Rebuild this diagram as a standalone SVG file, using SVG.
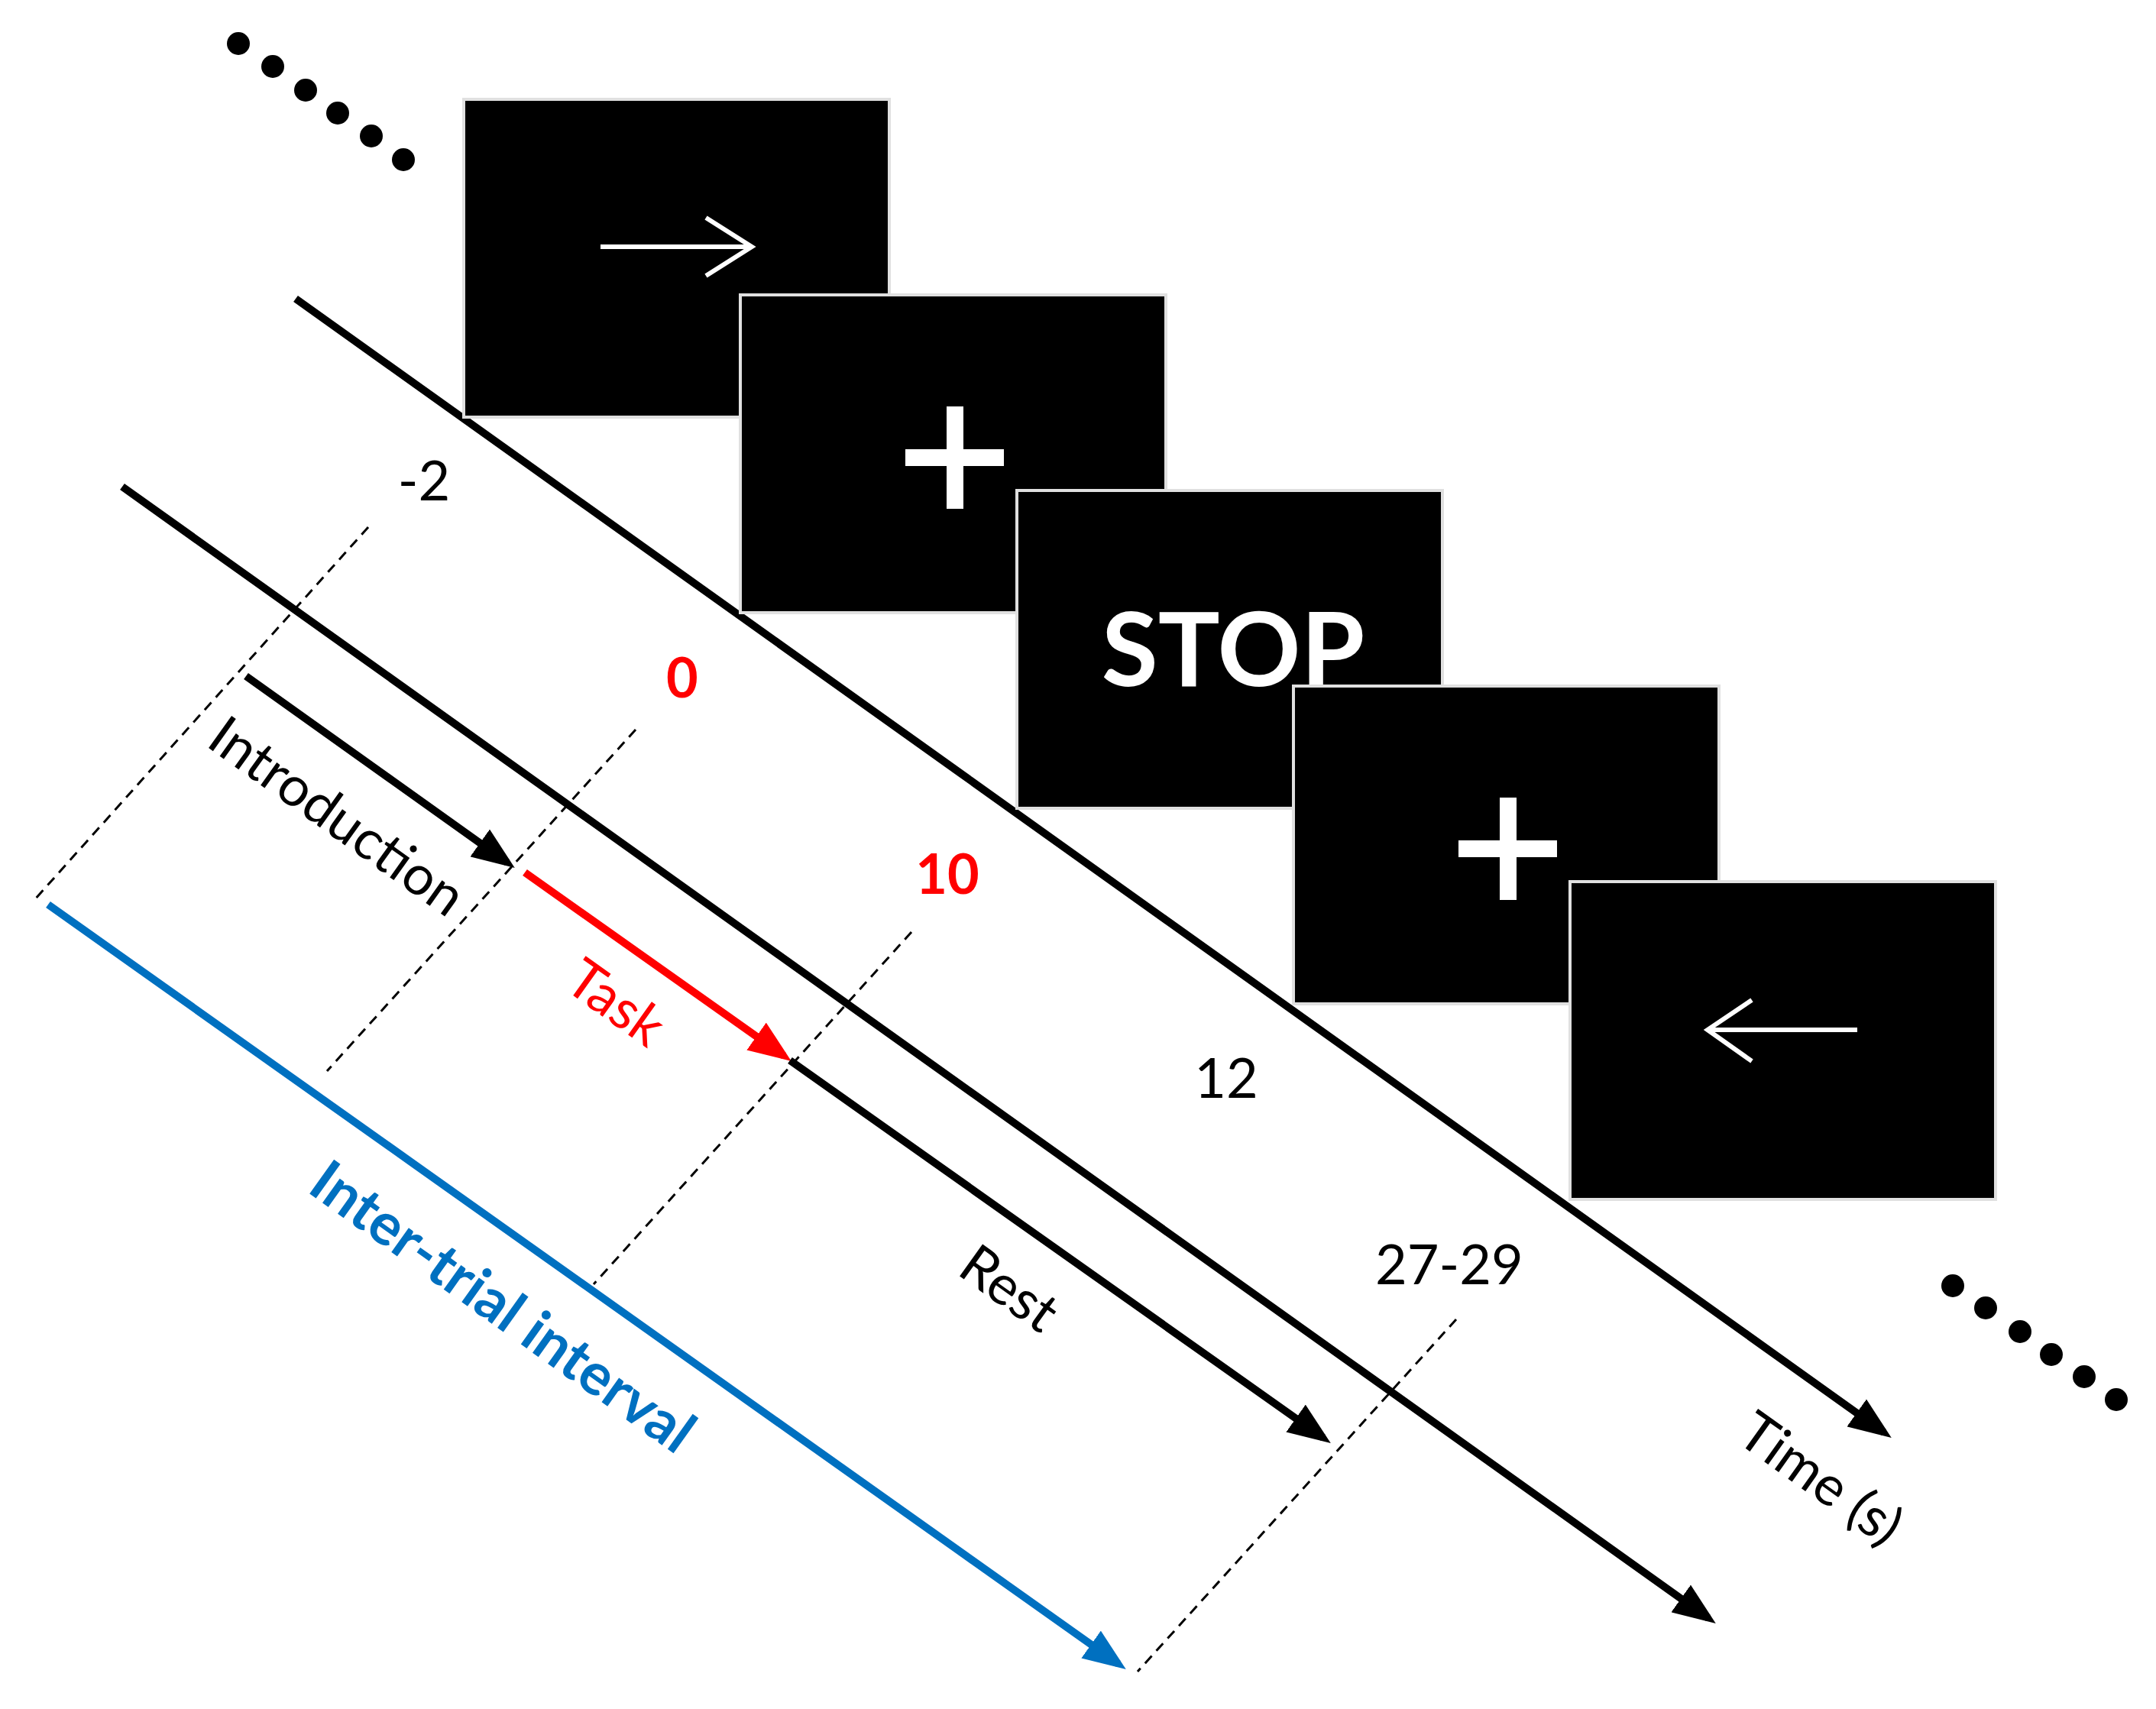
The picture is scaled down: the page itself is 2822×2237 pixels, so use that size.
<svg xmlns="http://www.w3.org/2000/svg" width="2822" height="2237" viewBox="0 0 2822 2237">
<style>
.box{fill:#000;stroke:#e0e0e0;stroke-width:4}
.ln{stroke:#000;stroke-width:10;fill:none}
.dash{stroke:#000;stroke-width:3;stroke-dasharray:13 9;fill:none}
.t{font-family:Lato,"Open Sans","Liberation Sans",sans-serif;font-size:72px;text-anchor:middle;dominant-baseline:central}
.w{stroke:#fff;fill:none}
</style>
<defs>
<marker id="ah" markerUnits="userSpaceOnUse" markerWidth="56" markerHeight="44" refX="44" refY="22" orient="auto"><path d="M0,0 L56,22 L0,44 z" fill="#000"/></marker>
<marker id="ahr" markerUnits="userSpaceOnUse" markerWidth="56" markerHeight="44" refX="44" refY="22" orient="auto"><path d="M0,0 L56,22 L0,44 z" fill="#f00"/></marker>
<marker id="ahb" markerUnits="userSpaceOnUse" markerWidth="56" markerHeight="44" refX="44" refY="22" orient="auto"><path d="M0,0 L56,22 L0,44 z" fill="#0070c0"/></marker>
</defs>
<g id="dots-top" fill="#000">
<circle cx="312" cy="57" r="15"/><circle cx="357" cy="87" r="15"/><circle cx="400" cy="118" r="15"/><circle cx="442" cy="148" r="15"/><circle cx="486" cy="178" r="15"/><circle cx="528" cy="209" r="15"/>
</g>
<g id="dots-bottom" fill="#000">
<circle cx="2556" cy="1683" r="15"/><circle cx="2599" cy="1712" r="15"/><circle cx="2644" cy="1743" r="15"/><circle cx="2685" cy="1773" r="15"/><circle cx="2728" cy="1802" r="15"/><circle cx="2770" cy="1832" r="15"/>
</g>
<g id="connectors">
<line class="ln" x1="387" y1="391" x2="2466" y2="1875" marker-end="url(#ah)"/>
<line class="ln" x1="160" y1="637" x2="2236" y2="2118" marker-end="url(#ah)"/>
<line class="ln" x1="322" y1="885" x2="664" y2="1129" marker-end="url(#ah)"/>
<line class="ln" x1="687" y1="1142" x2="1026" y2="1382" stroke="#f00" style="stroke:#f00" marker-end="url(#ahr)"/>
<line class="ln" x1="1034" y1="1388" x2="1732" y2="1882" marker-end="url(#ah)"/>
<line class="ln" x1="63" y1="1184" x2="1464" y2="2178" style="stroke:#0070c0" marker-end="url(#ahb)"/>
<line class="dash" x1="482" y1="690" x2="45" y2="1178"/>
<line class="dash" x1="832" y1="955" x2="428" y2="1402"/>
<line class="dash" x1="1193" y1="1220" x2="777" y2="1681"/>
<line class="dash" x1="1906" y1="1727" x2="1489" y2="2188"/>
</g>
<g id="screen1"><rect class="box" x="607" y="130" width="557" height="416"/><path class="w" stroke-width="6" d="M786,323 H982 M924,285 L984,323 L924,361"/></g>
<g id="screen2"><rect class="box" x="969" y="386" width="557" height="416"/><path class="w" stroke-width="22" d="M1250,532 V666 M1185,599 H1314"/></g>
<g id="screen3"><rect class="box" x="1331" y="642" width="557" height="416"/><text class="t" x="1614" y="846" style="font-size:135px;font-weight:bold;fill:#fff">STOP</text></g>
<g id="screen4"><rect class="box" x="1693" y="898" width="557" height="416"/><path class="w" stroke-width="22" d="M1974,1044 V1178 M1909,1111 H2038"/></g>
<g id="screen5"><rect class="box" x="2055" y="1154" width="557" height="416"/><path class="w" stroke-width="6" d="M2237,1348 H2431 M2293,1309 L2235,1348 L2293,1389"/></g>
<g id="labels">
<text class="t" x="555" y="627">-2</text>
<text class="t" x="893" y="885" style="fill:#f00;font-weight:bold">0</text>
<text class="t" x="1240" y="1142" style="fill:#f00;font-weight:bold">10</text>
<text class="t" x="1605" y="1409">12</text>
<text class="t" x="1897" y="1653">27-29</text>
<text class="t" transform="translate(2385,1933) rotate(35.5)">Time (s)</text>
<text class="t" transform="translate(443,1066) rotate(35.5)">Introduction</text>
<text class="t" transform="translate(808,1310) rotate(35.5)" style="fill:#f00">Task</text>
<text class="t" transform="translate(1323,1684) rotate(35.5)">Rest</text>
<text class="t" transform="translate(660,1708) rotate(35.5)" style="fill:#0070c0;font-weight:bold;font-size:76px">Inter-trial interval</text>
</g>
</svg>
